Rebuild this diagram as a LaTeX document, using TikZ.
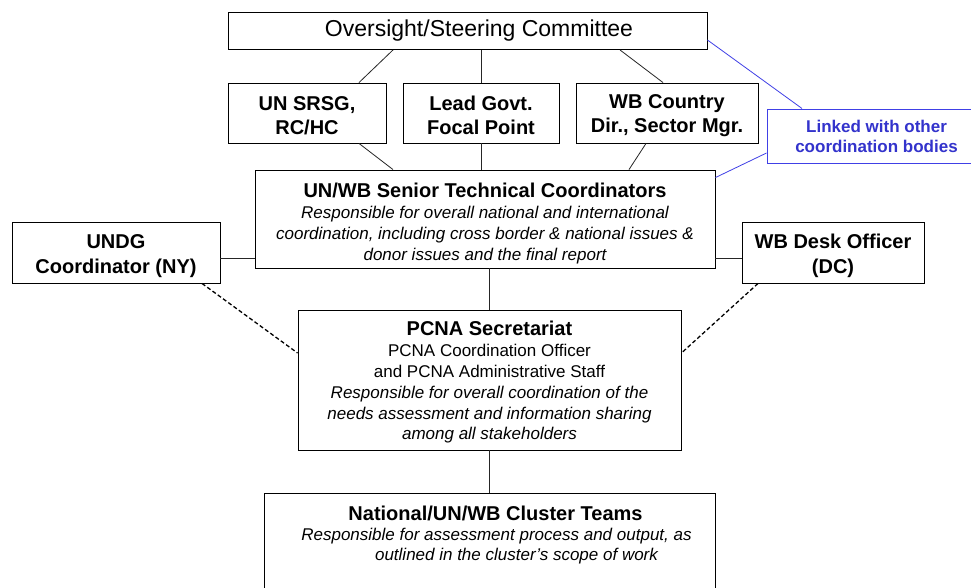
\documentclass[tikz,border=0pt]{standalone}
\usepackage{fontspec}
\setmainfont{Liberation Sans}
\usetikzlibrary{calc}
\definecolor{bluetxt}{RGB}{51,51,204}
\definecolor{blueln}{RGB}{64,64,230}
\newcommand\mytitle{\fontsize{20}{24.5}\selectfont\upshape\bfseries}
\newcommand\mysentitle{\fontsize{20}{22}\selectfont\upshape\bfseries}
\newcommand\myital{\fontsize{17}{20.8}\selectfont\mdseries\itshape}
\newcommand\mynorm{\fontsize{17}{20.8}\selectfont\mdseries\upshape}
\begin{document}
\begin{tikzpicture}[x=1pt,y=-1pt,
  box/.style={draw=black,line width=0.9pt,fill=white,inner sep=0pt},
  txt/.style={inner sep=0pt,align=center},
  conn/.style={draw=black!85,line width=0.8pt},
  dashconn/.style={draw=black,line width=1.3pt,dash pattern=on 4pt off 2.5pt},
  blueconn/.style={draw=blueln,line width=0.8pt}]
\clip (0,0) rectangle (971,587);
\fill[white] (0,0) rectangle (971,587);

% top
\node[box,minimum width=479pt,minimum height=37pt] (top) at (467.5,31) {};
\node[txt,font=\fontsize{23}{27}\selectfont] (toptxt) at (479,31) {Oversight/Steering Committee};

% row 2
\node[box,minimum width=158pt,minimum height=60pt] (b1) at (307,113) {};
\node[txt,font=\mytitle] (b1t) at ($(b1)+(0,2.5)$) {UN SRSG,\\RC/HC};
\node[box,minimum width=156pt,minimum height=60pt] (b2) at (481,113) {};
\node[txt,font=\mytitle] (b2t) at ($(b2)+(0,2.5)$) {Lead Govt.\\Focal Point};
\node[box,minimum width=182pt,minimum height=60pt] (b3) at (667,113) {};
\node[txt,font=\mytitle] (b3t) at ($(b3)+(0,2.5)$) {WB Country\\Dir., Sector Mgr.};

% linked box
\node[box,draw=blueln,line width=1pt,minimum width=219pt,minimum height=54pt] (link) at (876.5,136) {};
\node[txt,font=\fontsize{17}{20}\selectfont\bfseries,text=bluetxt] (linkt) at (link) {Linked with other\\coordination bodies};

% senior
\node[box,minimum width=460pt,minimum height=98pt] (sen) at (485,219) {};
\node[txt,font=\myital] (sent) at ($(sen)+(0,4.5)$)
  {\mysentitle UN/WB Senior Technical Coordinators\\[0.5pt]
   \myital Responsible for overall national and international\\
   \myital coordination, including cross border \& national issues \&\\
   \myital donor issues and the final report};

% side boxes
\node[box,minimum width=208pt,minimum height=61pt] (undg) at (116,252.5) {};
\node[txt,font=\mytitle] (undgt) at ($(undg)+(0,3.5)$) {UNDG\\Coordinator (NY)};
\node[box,minimum width=182pt,minimum height=61pt] (desk) at (833,252.5) {};
\node[txt,font=\mytitle] (deskt) at ($(desk)+(0,3.5)$) {WB Desk Officer\\(DC)};

% PCNA
\node[box,minimum width=383pt,minimum height=140pt] (pcna) at (489.5,380) {};
\node[txt,font=\mynorm] (pcnat) at ($(pcna)+(0,2.5)$)
  {\mysentitle PCNA Secretariat\\
   \mynorm PCNA Coordination Officer\\
   \mynorm and PCNA Administrative Staff\\
   \myital Responsible for overall coordination of the\\
   \myital needs assessment and information sharing\\
   \myital among all stakeholders};

% cluster
\node[box,minimum width=451pt,minimum height=130pt] (cl) at (489.5,558) {};
\node[txt,font=\mytitle] (cltitle) at (495.5,513) {National/UN/WB Cluster Teams};
\node[txt,font=\myital] (cl1) at (496.5,536.5) {Responsible for assessment process and output, as};
\node[txt,font=\myital] (cl2) at (516.5,556) {outlined in the cluster’s scope of work};

% connectors
\draw[conn] ($(top.south)+(-74.5,0)$) -- ($(b1.north)+(52,0)$);
\draw[conn] ($(top.south)+(13.5,0)$) -- (b2.north);
\draw[conn] ($(top.south)+(152.5,0)$) -- ($(b3.north)+(-4,0)$);
\draw[conn] ($(b1.south)+(52,0)$) -- ($(sen.north)+(-92,0)$);
\draw[conn] (b2.south) -- ($(sen.north)+(-4,0)$);
\draw[conn] ($(b3.south)+(-21,0)$) -- ($(sen.north)+(144,0)$);
\coordinate (h1) at ($(undg.east)+(0,5.5)$);
\draw[conn] (h1) -- (h1 -| sen.west);
\coordinate (h2) at ($(desk.west)+(0,5.5)$);
\draw[conn] (h2) -- (h2 -| sen.east);
\draw[conn] (pcna.north) -- (pcna.north |- sen.south);
\draw[conn] (pcna.south) -- (pcna.south |- cl.north);
\draw[dashconn] ($(undg.south)+(86,0)$) -- ($(pcna.west)+(0,-27)$);
\draw[dashconn] ($(desk.south)+(-75,0)$) -- ($(pcna.east)+(0,-27)$);
\draw[blueconn] ($(top.east)+(0,9)$) -- ($(link.north)+(-74.5,0)$);
\draw[blueconn] ($(link.west)+(0,17)$) -- ($(sen.north east)+(0,8)$);
\end{tikzpicture}
\end{document}
